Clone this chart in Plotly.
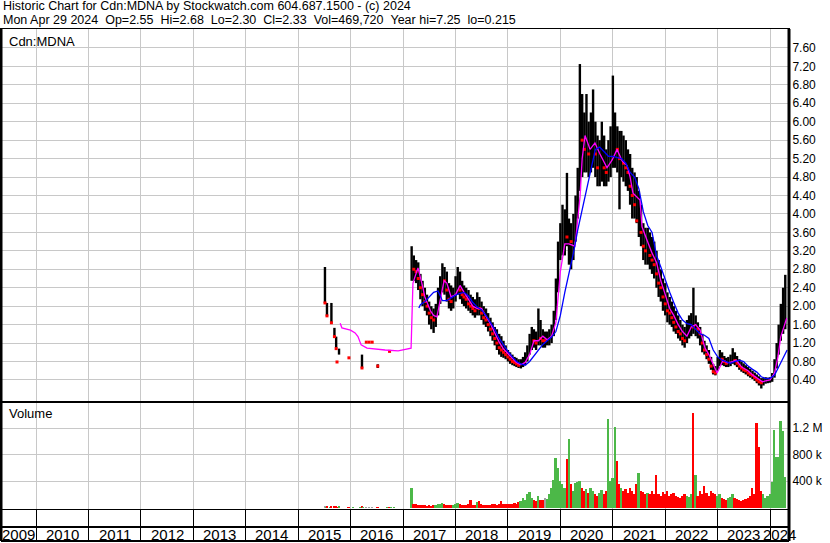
import plotly.graph_objects as go

# ---------------- data ----------------
# sparse trades 2015-2016, then semi-monthly bars from 2017
dates = [
    "2015-07-06", "2015-07-13", "2015-07-20", "2015-08-14", "2015-08-20", "2015-09-10",
    "2015-09-22", "2015-09-28", "2015-10-12", "2015-12-20", "2016-01-18", "2016-03-07",
    "2016-03-20", "2016-03-28", "2016-04-19", "2016-05-09", "2016-05-30", "2016-07-08",
    "2016-09-15", "2016-09-28", "2016-10-12", "2016-11-01",
    "2017-03-01", "2017-03-16", "2017-04-01", "2017-04-16", "2017-05-01", "2017-05-16",
    "2017-06-01", "2017-06-16", "2017-07-01", "2017-07-16", "2017-08-01", "2017-08-16",
    "2017-09-01", "2017-09-16", "2017-10-01", "2017-10-16", "2017-11-01", "2017-11-16",
    "2017-12-01", "2017-12-16",
    "2018-01-01", "2018-01-16", "2018-02-01", "2018-02-16", "2018-03-01", "2018-03-16",
    "2018-04-01", "2018-04-16", "2018-05-01", "2018-05-16", "2018-06-01", "2018-06-16",
    "2018-07-01", "2018-07-16", "2018-08-01", "2018-08-16", "2018-09-01", "2018-09-16",
    "2018-10-01", "2018-10-16", "2018-11-01", "2018-11-16", "2018-12-01", "2018-12-16",
    "2019-01-01", "2019-01-16", "2019-02-01", "2019-02-16", "2019-03-01", "2019-03-16",
    "2019-04-01", "2019-04-16", "2019-05-01", "2019-05-16", "2019-06-01", "2019-06-16",
    "2019-07-01", "2019-07-16", "2019-08-01", "2019-08-16", "2019-09-01", "2019-09-16",
    "2019-10-01", "2019-10-16", "2019-11-01", "2019-11-16", "2019-12-01", "2019-12-16",
    "2020-01-01", "2020-01-16", "2020-02-01", "2020-02-16", "2020-03-01", "2020-03-16",
    "2020-04-01", "2020-04-16", "2020-05-01", "2020-05-16", "2020-06-01", "2020-06-16",
    "2020-07-01", "2020-07-16", "2020-08-01", "2020-08-16", "2020-09-01", "2020-09-16",
    "2020-10-01", "2020-10-16", "2020-11-01", "2020-11-16", "2020-12-01", "2020-12-16",
    "2021-01-01", "2021-01-16", "2021-02-01", "2021-02-16", "2021-03-01", "2021-03-16",
    "2021-04-01", "2021-04-16", "2021-05-01", "2021-05-16", "2021-06-01", "2021-06-16",
    "2021-07-01", "2021-07-16", "2021-08-01", "2021-08-16", "2021-09-01", "2021-09-16",
    "2021-10-01", "2021-10-16", "2021-11-01", "2021-11-16", "2021-12-01", "2021-12-16",
    "2022-01-01", "2022-01-16", "2022-02-01", "2022-02-16", "2022-03-01", "2022-03-16",
    "2022-04-01", "2022-04-16", "2022-05-01", "2022-05-16", "2022-06-01", "2022-06-16",
    "2022-07-01", "2022-07-16", "2022-08-01", "2022-08-16", "2022-09-01", "2022-09-16",
    "2022-10-01", "2022-10-16", "2022-11-01", "2022-11-16", "2022-12-01", "2022-12-16",
    "2023-01-01", "2023-01-16", "2023-02-01", "2023-02-16", "2023-03-01", "2023-03-16",
    "2023-04-01", "2023-04-16", "2023-05-01", "2023-05-16", "2023-06-01", "2023-06-16",
    "2023-07-01", "2023-07-16", "2023-08-01", "2023-08-16", "2023-09-01", "2023-09-16",
    "2023-10-01", "2023-10-16", "2023-11-01", "2023-11-16", "2023-12-01", "2023-12-16",
    "2024-01-01", "2024-01-16", "2024-02-01", "2024-02-16", "2024-03-01", "2024-03-16",
    "2024-04-01", "2024-04-16",
]

high = [
    2.85, 4.17, 2.07, 2.74, 2.07, 1.53, 1.34, 0.79, 1.08, 0.88, 0.95, 1.09,
    0.95, 1.22, 1.22, 1.22, 1.22, 0.74, 1.09, 1.02, 1.09, 1.35,
    3.30, 3.10, 3.00, 2.95, 2.70, 2.55, 2.40, 2.25, 2.10, 2.00, 1.95, 2.05,
    2.40, 2.65, 2.93, 2.85, 2.75, 2.50, 2.45, 2.40,
    2.65, 2.85, 2.75, 2.55, 2.45, 2.40, 2.35, 2.25, 2.20, 2.15, 2.30, 2.20,
    2.10, 2.00, 1.95, 1.85, 1.75, 1.65, 1.55, 1.50, 1.40, 1.35, 1.25, 1.15,
    1.05, 1.00, 0.95, 0.90, 0.88, 0.85, 0.85, 0.90, 1.00, 1.15, 1.40, 1.55,
    1.50, 1.45, 1.95, 1.70, 1.50, 1.45, 1.45, 1.50, 1.60, 1.90, 2.60, 3.40,
    3.80, 4.20, 4.10, 4.89, 3.90, 3.80, 4.00, 4.40, 5.00, 7.25, 6.60, 6.20,
    6.60, 6.00, 6.20, 6.70, 6.00, 5.70, 5.60, 6.00, 5.70, 5.40, 5.60, 5.90,
    7.00, 6.20, 5.90, 5.80, 5.80, 5.70, 5.60, 5.40, 5.30, 5.00, 4.90, 4.80,
    4.50, 4.20, 3.80, 3.70, 3.70, 3.60, 3.50, 3.40, 3.20, 3.00, 2.80, 2.60,
    2.50, 2.30, 2.20, 2.10, 2.00, 1.90, 1.80, 1.70, 1.60, 1.55, 1.70, 1.80,
    1.85, 2.40, 1.80, 1.65, 1.55, 1.40, 1.25, 1.15, 1.05, 0.90, 0.75, 0.70,
    0.90, 1.05, 1.00, 0.92, 0.88, 0.90, 0.95, 1.09, 1.00, 0.92, 0.85, 0.80,
    0.76, 0.72, 0.68, 0.64, 0.60, 0.56, 0.52, 0.48, 0.44, 0.44, 0.46, 0.45,
    0.46, 0.55, 0.85, 1.20, 1.60, 2.05, 2.40, 2.68,
]

low = [
    2.07, 4.17, 1.79, 2.74, 1.64, 1.34, 1.08, 0.79, 0.95, 0.88, 0.95, 1.09,
    0.66, 1.22, 1.22, 1.22, 1.22, 0.66, 1.09, 1.02, 1.09, 1.35,
    2.55, 2.55, 2.50, 2.35, 2.15, 2.00, 1.90, 1.80, 1.60, 1.50, 1.42, 1.55,
    1.80, 2.05, 2.30, 2.25, 2.10, 1.95, 1.90, 1.95,
    2.10, 2.25, 2.15, 2.05, 2.00, 1.95, 1.90, 1.85, 1.80, 1.75, 1.80, 1.80,
    1.70, 1.60, 1.55, 1.45, 1.35, 1.25, 1.15, 1.05, 0.95, 0.90, 0.88, 0.85,
    0.80, 0.75, 0.72, 0.70, 0.68, 0.66, 0.65, 0.68, 0.72, 0.80, 0.95, 1.05,
    1.10, 1.05, 1.15, 1.15, 1.10, 1.10, 1.15, 1.15, 1.20, 1.35, 1.70, 2.30,
    3.00, 3.10, 3.10, 3.30, 2.90, 2.80, 3.00, 3.40, 3.90, 4.50, 4.80, 4.90,
    4.90, 4.80, 4.90, 5.00, 4.80, 4.60, 4.60, 4.70, 4.60, 4.60, 4.70, 4.80,
    5.00, 5.00, 4.90, 4.10, 4.80, 4.70, 4.60, 4.50, 4.20, 3.90, 3.90, 3.80,
    3.50, 3.30, 3.00, 2.90, 2.90, 2.80, 2.70, 2.60, 2.40, 2.20, 2.10, 1.90,
    1.80, 1.65, 1.60, 1.55, 1.45, 1.40, 1.30, 1.25, 1.15, 1.10, 1.20, 1.30,
    1.35, 1.40, 1.35, 1.30, 1.15, 1.00, 0.95, 0.85, 0.75, 0.62, 0.52, 0.50,
    0.60, 0.70, 0.72, 0.70, 0.68, 0.68, 0.70, 0.75, 0.72, 0.68, 0.62, 0.58,
    0.55, 0.52, 0.48, 0.45, 0.42, 0.38, 0.33, 0.28, 0.215, 0.28, 0.32, 0.33,
    0.34, 0.36, 0.45, 0.65, 0.95, 1.25, 1.40, 1.50,
]

close = [
    2.07, 4.17, 1.79, 2.74, 1.64, 1.34, 1.08, 0.79, 0.95, 0.88, 0.95, 1.09,
    0.66, 1.22, 1.22, 1.22, 1.22, 0.70, 1.09, 1.02, 1.09, 1.35,
    2.90, 2.80, 2.75, 2.60, 2.40, 2.25, 2.10, 2.00, 1.85, 1.75, 1.70, 1.85,
    2.15, 2.40, 2.60, 2.55, 2.35, 2.15, 2.10, 2.20,
    2.40, 2.50, 2.35, 2.25, 2.20, 2.15, 2.05, 2.00, 1.95, 1.90, 2.00, 1.95,
    1.85, 1.75, 1.70, 1.60, 1.50, 1.40, 1.30, 1.20, 1.10, 1.05, 1.00, 0.95,
    0.90, 0.85, 0.80, 0.78, 0.75, 0.72, 0.74, 0.78, 0.85, 1.00, 1.20, 1.30,
    1.25, 1.20, 1.45, 1.30, 1.25, 1.25, 1.30, 1.35, 1.45, 1.70, 2.40, 3.10,
    3.40, 3.60, 3.90, 3.50, 3.70, 3.40, 3.60, 4.00, 4.60, 5.70, 5.60, 5.40,
    5.50, 5.30, 5.50, 5.60, 5.30, 5.00, 5.10, 5.20, 5.00, 4.90, 5.10, 5.30,
    5.40, 5.60, 5.40, 5.20, 5.30, 5.10, 5.00, 4.90, 4.60, 4.40, 4.20, 3.85,
    3.95, 3.60, 3.30, 3.20, 3.30, 3.10, 3.00, 2.90, 2.70, 2.50, 2.40, 2.20,
    2.05, 1.90, 1.85, 1.75, 1.65, 1.55, 1.45, 1.40, 1.30, 1.25, 1.45, 1.55,
    1.60, 1.55, 1.58, 1.50, 1.40, 1.20, 1.05, 0.95, 0.85, 0.70, 0.58, 0.55,
    0.75, 0.88, 0.85, 0.80, 0.76, 0.78, 0.82, 0.86, 0.82, 0.76, 0.70, 0.66,
    0.62, 0.60, 0.55, 0.52, 0.50, 0.45, 0.40, 0.36, 0.34, 0.36, 0.38, 0.40,
    0.41, 0.48, 0.70, 1.00, 1.40, 1.90, 2.00, 2.33,
]

volume = [
    25000, 2000, 18000, 3000, 22000, 15000, 20000, 4000, 12000, 3000, 5000, 6000,
    15000, 4000, 3000, 3000, 4000, 8000, 5000, 4000, 5000, 6000,
    300000, 60000, 50000, 40000, 45000, 35000, 40000, 30000, 35000, 30000, 40000, 45000,
    60000, 55000, 70000, 50000, 45000, 40000, 35000, 40000,
    60000, 70000, 50000, 40000, 45000, 40000, 50000, 120000, 45000, 40000, 90000, 100000,
    50000, 45000, 40000, 35000, 45000, 50000, 55000, 45000, 60000, 100000, 55000, 50000,
    50000, 60000, 50000, 70000, 60000, 80000, 100000, 140000, 120000, 200000, 240000, 150000,
    120000, 100000, 180000, 120000, 110000, 150000, 130000, 200000, 300000, 420000, 750000, 600000,
    400000, 350000, 300000, 740000, 1040000, 350000, 250000, 380000, 390000, 400000, 300000, 250000,
    280000, 220000, 300000, 250000, 200000, 180000, 220000, 260000, 200000, 250000, 1340000, 400000,
    450000, 1220000, 700000, 350000, 300000, 250000, 280000, 220000, 300000, 250000, 200000, 350000,
    530000, 250000, 230000, 200000, 220000, 200000, 250000, 200000, 500000, 200000, 180000, 230000,
    200000, 250000, 180000, 200000, 220000, 180000, 160000, 150000, 170000, 200000, 180000, 160000,
    200000, 1430000, 490000, 180000, 250000, 200000, 330000, 220000, 180000, 250000, 220000, 200000,
    180000, 200000, 150000, 130000, 120000, 150000, 160000, 200000, 150000, 130000, 120000, 100000,
    110000, 130000, 150000, 180000, 300000, 200000, 1280000, 920000, 250000, 200000, 150000, 180000,
    200000, 390000, 1180000, 760000, 760000, 1310000, 1150000, 470000,
]

# short moving average (magenta)
ma_short_dates = [
    "2015-10-20", "2015-11-01", "2015-12-31", "2016-02-01", "2016-02-21", "2016-03-14",
    "2016-04-24", "2016-06-19", "2016-08-28", "2016-11-27", "2017-02-25", "2017-03-10",
    "2017-04-14", "2017-05-15", "2017-06-01", "2017-07-10", "2017-08-01", "2017-08-24",
    "2017-09-15", "2017-10-13", "2017-11-01", "2017-12-01", "2018-01-01", "2018-02-01",
    "2018-03-01", "2018-04-01", "2018-05-01", "2018-06-01", "2018-07-01", "2018-08-01",
    "2018-09-01", "2018-10-01", "2018-11-01", "2018-12-01", "2019-01-01", "2019-02-01",
    "2019-03-01", "2019-04-01", "2019-05-01", "2019-06-01", "2019-07-01", "2019-08-01",
    "2019-09-01", "2019-10-01", "2019-11-01", "2019-12-01", "2020-01-01", "2020-02-01",
    "2020-03-01", "2020-04-12", "2020-04-25", "2020-05-17", "2020-06-01", "2020-06-21",
    "2020-07-26", "2020-08-29", "2020-10-03", "2020-11-21", "2020-12-27", "2021-01-30",
    "2021-03-06", "2021-04-10", "2021-05-01", "2021-05-21", "2021-07-09", "2021-07-23",
    "2021-08-27", "2021-10-01", "2021-11-01", "2021-12-01", "2022-01-01", "2022-02-01",
    "2022-03-01", "2022-04-01", "2022-05-01", "2022-06-01", "2022-07-01", "2022-08-01",
    "2022-09-01", "2022-10-05", "2022-11-01", "2022-12-01", "2022-12-28", "2023-02-07",
    "2023-03-10", "2023-04-15", "2023-05-10", "2023-06-17", "2023-08-01", "2023-09-01",
    "2023-10-01", "2023-11-09", "2023-12-01", "2024-01-01", "2024-02-01", "2024-02-25",
    "2024-03-15", "2024-04-10", "2024-04-26",
]
ma_short = [
    1.63, 1.53, 1.48, 1.42, 1.34, 1.16,
    1.09, 1.07, 1.05, 1.03, 1.09, 2.50,
    2.83, 2.45, 2.20, 1.90, 1.80, 1.77,
    2.10, 2.55, 2.50, 2.20, 2.25, 2.45,
    2.30, 2.15, 2.00, 1.95, 1.95, 1.78,
    1.62, 1.42, 1.22, 1.07, 0.97, 0.85,
    0.78, 0.73, 0.78, 0.95, 1.25, 1.25,
    1.35, 1.27, 1.35, 1.65, 2.75, 3.35,
    3.35, 3.30, 3.72, 4.37, 5.20, 5.70,
    5.40, 5.54, 5.30, 5.00, 5.17, 5.40,
    5.15, 5.05, 4.80, 4.45, 4.30, 3.72,
    3.43, 3.15, 2.95, 2.55, 2.25, 1.95,
    1.80, 1.60, 1.45, 1.35, 1.55, 1.60,
    1.48, 1.09, 0.95, 0.72, 0.55, 0.83,
    0.77, 0.80, 0.83, 0.68, 0.60, 0.51,
    0.44, 0.36, 0.38, 0.40, 0.55, 0.90,
    1.33, 1.60, 1.74,
]

# long moving average (blue)
ma_long_dates = [
    "2017-04-20", "2017-05-01", "2017-06-01", "2017-07-01", "2017-08-01", "2017-09-01",
    "2017-10-01", "2017-11-01", "2017-12-01", "2018-01-01", "2018-02-01", "2018-03-01",
    "2018-04-01", "2018-05-01", "2018-06-01", "2018-07-01", "2018-08-01", "2018-09-01",
    "2018-10-01", "2018-11-01", "2018-12-01", "2019-01-01", "2019-02-01", "2019-03-01",
    "2019-04-01", "2019-05-01", "2019-06-01", "2019-07-01", "2019-08-01", "2019-09-01",
    "2019-10-01", "2019-11-01", "2019-12-01", "2020-01-01", "2020-02-01", "2020-03-01",
    "2020-04-01", "2020-05-01", "2020-06-01", "2020-07-01", "2020-08-01", "2020-09-01",
    "2020-10-01", "2020-11-01", "2020-12-01", "2021-01-01", "2021-02-01", "2021-03-01",
    "2021-04-01", "2021-05-01", "2021-06-01", "2021-07-01", "2021-08-01", "2021-09-01",
    "2021-10-01", "2021-11-01", "2021-12-01", "2022-01-01", "2022-02-01", "2022-03-01",
    "2022-04-01", "2022-05-01", "2022-06-01", "2022-07-01", "2022-08-01", "2022-09-01",
    "2022-10-01", "2022-11-01", "2022-12-01", "2023-01-01", "2023-02-01", "2023-03-01",
    "2023-04-01", "2023-05-01", "2023-06-01", "2023-07-01", "2023-08-01", "2023-09-01",
    "2023-10-01", "2023-11-01", "2023-12-01", "2024-01-01", "2024-02-01", "2024-03-01",
    "2024-04-01", "2024-04-29",
]
ma_long = [
    1.96, 2.03, 2.10, 2.20, 2.30, 2.33,
    2.12, 2.12, 2.18, 2.24, 2.28, 2.30,
    2.22, 2.08, 1.98, 1.92, 1.80, 1.66,
    1.50, 1.30, 1.15, 1.02, 0.90, 0.80,
    0.75, 0.72, 0.80, 0.92, 1.05, 1.17,
    1.25, 1.33, 1.45, 1.80, 2.30, 2.70,
    3.15, 3.65, 4.10, 4.55, 5.00, 5.40,
    5.45, 5.35, 5.25, 5.25, 5.22, 5.20,
    5.10, 4.90, 4.80, 4.55, 4.05, 3.75,
    3.60, 3.10, 2.85, 2.55, 2.30, 2.08,
    1.85, 1.70, 1.62, 1.60, 1.50, 1.40,
    1.37, 1.30, 1.05, 0.90, 0.83, 0.80,
    0.76, 0.80, 0.83, 0.80, 0.70, 0.63,
    0.57, 0.47, 0.43, 0.44, 0.50, 0.68,
    0.88, 1.05,
]

# axis tick values / labels
x_range = ["2009-05-01", "2024-05-12"]
year_labels = ["2009", "2010", "2011", "2012", "2013", "2014", "2015", "2016",
               "2017", "2018", "2019", "2020", "2021", "2022", "2023", "2024"]
year_label_dates = ["2009-08-31", "2010-07-02", "2011-07-02", "2012-07-02", "2013-07-02",
                    "2014-07-02", "2015-07-02", "2016-07-02", "2017-07-02", "2018-07-02",
                    "2019-07-02", "2020-07-02", "2021-07-02", "2022-07-02", "2023-07-02",
                    "2024-03-05"]
price_ticks = [0.40, 0.80, 1.20, 1.60, 2.00, 2.40, 2.80, 3.20, 3.60, 4.00,
               4.40, 4.80, 5.20, 5.60, 6.00, 6.40, 6.80, 7.20, 7.60]
vol_ticks = [400000, 800000, 1200000]
vol_tick_text = ["400 k", "800 k", "1.2 M"]

# ---------------- build figure ----------------
GRID = "#c8c8c8"
FONT = "Arial, Liberation Sans, sans-serif"
NARROW = "Liberation Sans Narrow, Arial Narrow, Liberation Sans, sans-serif"

seg_x, seg_y = [], []
for d, h, l in zip(dates, high, low):
    seg_x += [d, d, None]
    seg_y += [l, h, None]

vol_colors = []
down_x, down_y = [], []
prev = None
for d, c in zip(dates, close):
    if prev is None or c == prev:
        vol_colors.append("#a0a0a0")
    elif c > prev:
        vol_colors.append("#4cb848")
    else:
        vol_colors.append("#ff0000")
    if prev is None or c <= prev:
        down_x.append(d)
        down_y.append(c)
    prev = c

fig = go.Figure()
fig.add_trace(go.Scatter(x=seg_x, y=seg_y, mode="lines", line=dict(color="black", width=2.4),
                         xaxis="x", yaxis="y", hoverinfo="skip"))
fig.add_trace(go.Scatter(x=down_x, y=down_y, mode="markers",
                         marker=dict(color="#ff0000", size=3, symbol="square", line=dict(width=0)),
                         xaxis="x", yaxis="y"))
fig.add_trace(go.Scatter(x=ma_short_dates, y=ma_short, mode="lines",
                         line=dict(color="#ff00ff", width=1.3), xaxis="x", yaxis="y"))
fig.add_trace(go.Scatter(x=ma_long_dates, y=ma_long, mode="lines",
                         line=dict(color="#0000ff", width=1.3), xaxis="x", yaxis="y"))
fig.add_trace(go.Bar(x=dates, y=volume, marker=dict(color=vol_colors, line=dict(width=0)),
                     width=13 * 86400000, xaxis="x2", yaxis="y2"))

d_price = [140 / 512, 1.0]
d_vol = [32 / 512, 138 / 512]
strip_top = 14 / 512          # line between tick strip and label strip

common_x = dict(type="date", range=x_range, showline=True, linecolor="black", linewidth=1,
                mirror=True, zeroline=False, automargin=False,
                tickmode="linear", tick0="2010-01-01", dtick="M12",
                showticklabels=False, showgrid=True, gridcolor=GRID, gridwidth=1)

fig.update_layout(
    template="none",
    width=830, height=543,
    margin=dict(l=1, r=41, t=29, b=2, autoexpand=False),
    paper_bgcolor="white", plot_bgcolor="white",
    showlegend=False, bargap=0,
    xaxis=dict(**common_x, anchor="y", ticks=""),
    # year-boundary ticks run down through the tick strip and the label strip
    xaxis2=dict(**common_x, anchor="y2", ticks="outside", ticklen=32, tickcolor="black",
                tickwidth=1),
    yaxis=dict(domain=d_price, anchor="x", side="right", range=[-0.056, 8.01], automargin=False,
               tickmode="array", tickvals=price_ticks, ticktext=["%.2f" % v for v in price_ticks],
               ticks="", showgrid=True, gridcolor=GRID, gridwidth=1, zeroline=False,
               showline=True, linecolor="black", linewidth=1, mirror=True,
               tickfont=dict(family=FONT, size=12, color="black")),
    yaxis2=dict(domain=d_vol, anchor="x2", side="right", range=[-20000, 1580000], automargin=False,
                tickmode="array", tickvals=vol_ticks, ticktext=vol_tick_text,
                ticks="", showgrid=True, gridcolor=GRID, gridwidth=1, zeroline=False,
                showline=True, linecolor="black", linewidth=1, mirror=True,
                tickfont=dict(family=FONT, size=12, color="black")),
)

# heavy frame lines
for sx in (0, 1):
    fig.add_shape(type="line", xref="paper", yref="paper", x0=sx, x1=sx, y0=0, y1=1,
                  line=dict(color="black", width=3))
for sy in (0, strip_top):
    fig.add_shape(type="line", xref="paper", yref="paper", x0=0, x1=1, y0=sy, y1=sy,
                  line=dict(color="black", width=2))

# year labels in the bottom strip (centred in each visible year)
for lbl, ld in zip(year_labels, year_label_dates):
    fig.add_annotation(text=lbl, xref="x2", yref="paper", x=ld, y=strip_top / 2,
                       xanchor="center", yanchor="middle", yshift=0, showarrow=False,
                       font=dict(family=NARROW, size=15, color="black"))

title1 = "Historic Chart for Cdn:MDNA by Stockwatch.com 604.687.1500 - (c) 2024"
title2 = ("Mon Apr 29 2024\u00a0\u00a0Op=2.55\u00a0\u00a0Hi=2.68\u00a0\u00a0Lo=2.30\u00a0\u00a0"
          "Cl=2.33\u00a0\u00a0Vol=469,720\u00a0\u00a0Year hi=7.25\u00a0\u00a0lo=0.215")
fig.add_annotation(text=title1, xref="paper", yref="paper", x=0, y=1, xanchor="left",
                   yanchor="middle", xshift=0, yshift=23, showarrow=False,
                   font=dict(family=FONT, size=12.5, color="black"))
fig.add_annotation(text=title2, xref="paper", yref="paper", x=0, y=1, xanchor="left",
                   yanchor="middle", xshift=0, yshift=9, showarrow=False,
                   font=dict(family=FONT, size=12.5, color="black"))
fig.add_annotation(text="Cdn:MDNA", xref="paper", yref="paper", x=0, y=1, xanchor="left",
                   yanchor="middle", xshift=6, yshift=-12.5, showarrow=False,
                   font=dict(family=FONT, size=13, color="black"))
fig.add_annotation(text="Volume", xref="paper", yref="paper", x=0, y=d_vol[1], xanchor="left",
                   yanchor="middle", xshift=6, yshift=-10, showarrow=False,
                   font=dict(family=FONT, size=13, color="black"))

fig.write_html(
    "out.html",
    config={"displayModeBar": False},
    post_script="document.body.style.margin='0';document.body.style.padding='0';"
                "document.body.style.overflow='hidden';",
)
